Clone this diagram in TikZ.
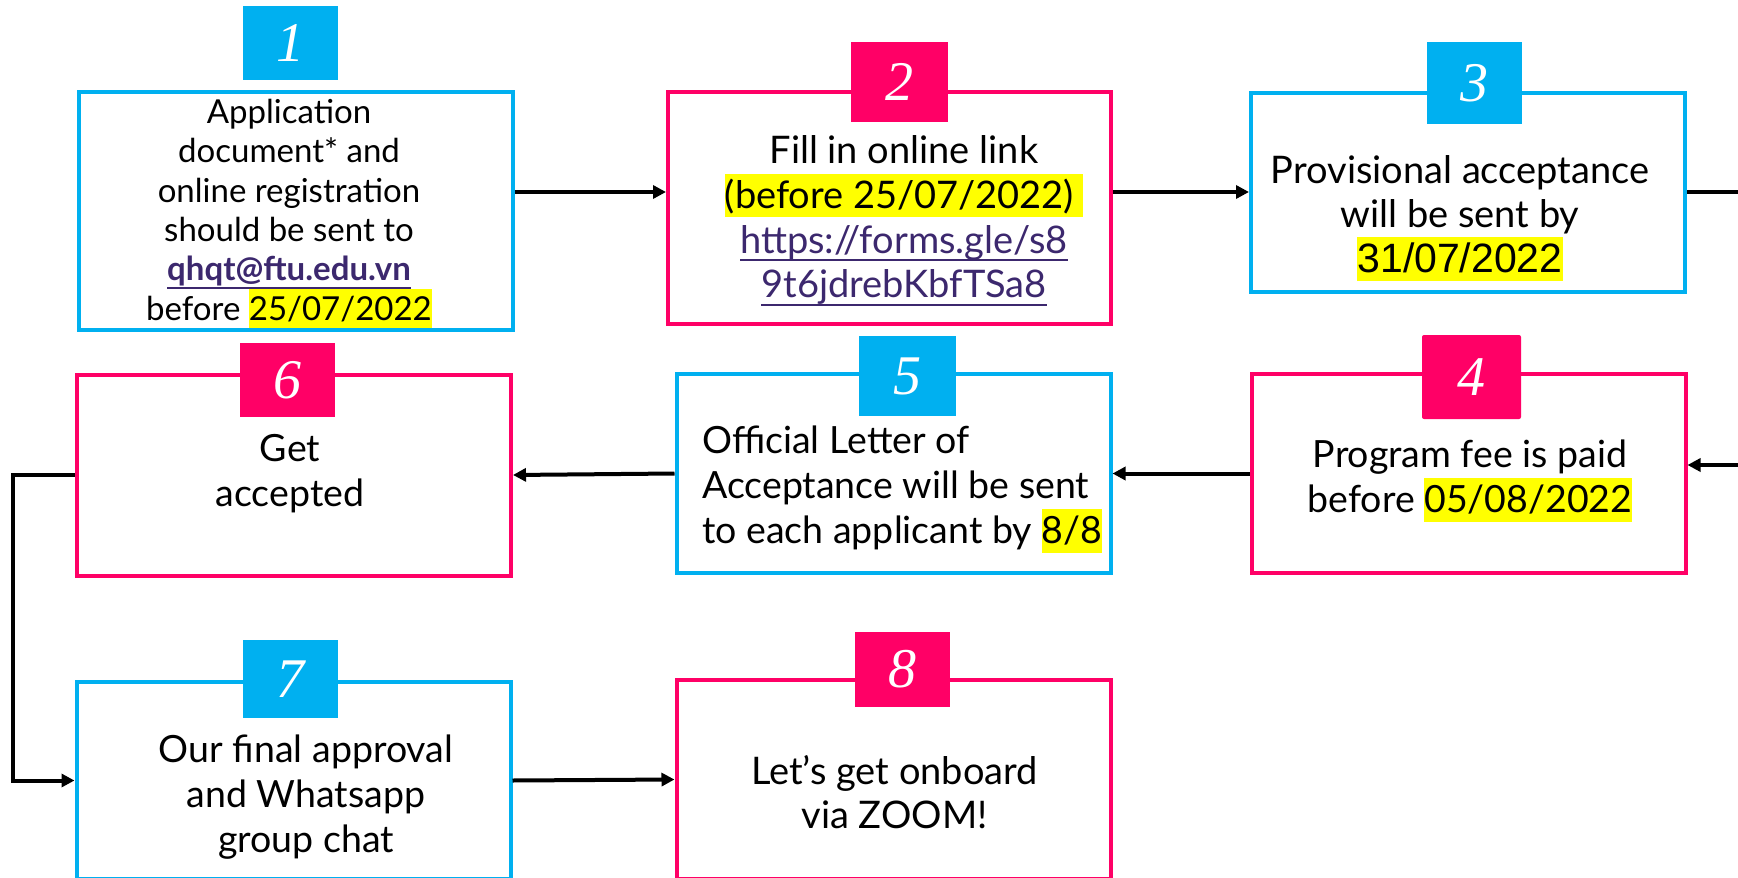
\documentclass[tikz,border=0pt]{standalone}
\usepackage{fontspec}
\setmainfont{Lato}
\newfontfamily\numfont{Liberation Serif}
\newfontfamily\arialfont{Liberation Sans}
\usetikzlibrary{arrows.meta}
\definecolor{ftublue}{HTML}{00B0F0}
\definecolor{ftupink}{HTML}{FF0066}
\definecolor{linkpurple}{RGB}{60,40,110}
\definecolor{hlyellow}{HTML}{FFFF00}
\newcommand\hl[1]{{\setlength\fboxsep{0pt}\colorbox{hlyellow}{\rule[-.2\baselineskip]{0pt}{.98\baselineskip}#1}}}
\newcommand\linkul[1]{{\leavevmode\color{linkpurple}\setbox0\hbox{#1}\rlap{\rule[-8pt]{\wd0}{1.8pt}}\box0}}
\begin{document}
\begin{tikzpicture}[x=1pt, y=-1pt,
  stepbox/.style = {draw, line width=4pt, minimum width=434pt, minimum height=199pt, inner sep=0pt},
  numtag/.style = {minimum width=95pt, minimum height=78pt, inner sep=0pt, text=white,
    font=\numfont\itshape\fontsize{56}{60}\selectfont},
  steptext/.style = {align=center, inner sep=0pt, anchor=north, font=\fontsize{37.5}{45}\selectfont},
  flow/.style = {line width=4pt, -{Triangle[length=13pt,width=13pt]}}
  ]
  \path[use as bounding box, fill=white] (0,0) rectangle (1738,878);

  \node[stepbox, draw=ftublue, minimum height=238pt] (box1) at (295.5,211) {};
  \node[stepbox, draw=ftupink, minimum width=443pt, minimum height=232pt] (box2) at (889.5,208) {};
  \node[stepbox, draw=ftublue] (box3) at (1468,192.5) {};
  \node[stepbox, draw=ftupink] (box4) at (1468.5,473.5) {};
  \node[stepbox, draw=ftublue] (box5) at (893.5,473.5) {};
  \node[stepbox, draw=ftupink, minimum height=201pt] (box6) at (294,475) {};
  \node[stepbox, draw=ftublue, minimum height=197pt] (box7) at (293.5,780.5) {};
  \node[stepbox, draw=ftupink] (box8) at (893.5,779.5) {};

  \node[numtag, fill=ftublue, minimum height=74pt] (tag1) at (290,43) {1};
  \node[numtag, fill=ftupink, minimum width=97pt, minimum height=80pt] (tag2) at (899.5,82) {2};
  \node[numtag, fill=ftublue, minimum height=82pt] (tag3) at (1474,83) {3};
  \node[numtag, fill=ftupink, minimum width=99pt, minimum height=84pt, rounded corners=2pt] (tag4) at (1471.5,377) {4};
  \node[numtag, fill=ftublue, minimum width=97pt, minimum height=80pt] (tag5) at (907.5,376) {5};
  \node[numtag, fill=ftupink, minimum height=74pt] (tag6) at (287,380) {6};
  \node[numtag, fill=ftublue] (tag7) at (290,679) {7};
  \node[numtag, fill=ftupink, minimum height=75pt] (tag8) at (902,669.5) {8};

  \node[steptext, font=\fontsize{33}{39.3}\selectfont] (text1) at (289,99)
    {Application\\document* and\\online registration\\should be sent to\\\linkul{\bfseries qhqt@ftu.edu.vn}\\before \hl{25/07/2022}};
  \node[steptext, font=\fontsize{38}{44.7}\selectfont] (text2) at (904,135.5)
    {Fill in online link\\\hl{(before 25/07/2022)\kern9pt}\\\linkul{https://forms.gle/s8}\\\linkul{9t6jdrebKbfTSa8}};
  \node[steptext, font=\fontsize{38}{44.5}\selectfont] (text3) at (1460,155)
    {Provisional acceptance\\will be sent by\\\hl{\arialfont\fontsize{41}{44.5}\selectfont 31/07/2022}};
  \node[steptext] (text4) at (1470,440) {Program fee is paid\\before \hl{05/08/2022}};
  \node[steptext, align=left, anchor=north west] (text5) at (702,426)
    {Official Letter of\\Acceptance will be sent\\to each applicant by \hl{8/8}};
  \node[steptext] (text6) at (290,434.5) {Get\\accepted};
  \node[steptext] (text7) at (306,735) {Our final approval\\and Whatsapp\\group chat};
  \node[steptext, font=\fontsize{38}{44}\selectfont] (text8) at (894.5,755.5) {Let’s get onboard\\via ZOOM!};

  \coordinate (rowA) at (0,192);
  \coordinate (rowB) at (0,465);
  \draw[flow] (box1.east |- rowA) -- (box2.west |- rowA);
  \draw[flow] (box2.east |- rowA) -- (box3.west |- rowA);
  \draw[flow] (box3.east |- rowA) -- (1770,192) -- (1770,465) -- (box4.east |- rowB);
  \draw[flow] (box4.west) -- (box5.east);
  \draw[flow] (box5.west) -- (box6.east);
  \draw[flow] (box6.west) -- ++(-62,0) |- (box7.west);
  \draw[flow] (box7.east) -- (box8.west);
\end{tikzpicture}
\end{document}
